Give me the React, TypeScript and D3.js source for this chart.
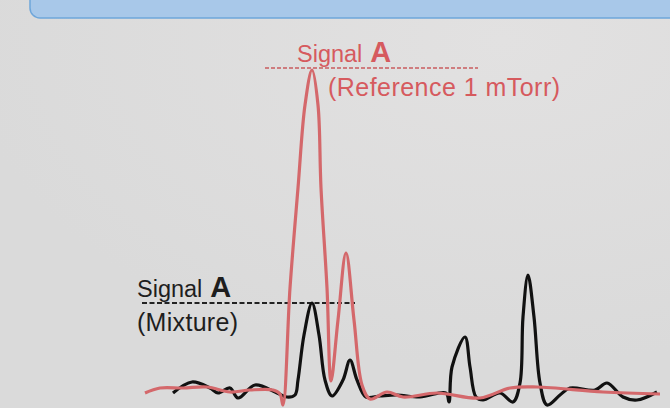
import React from "react";
import * as d3 from "d3";

// Arbitrary signal units: x = scan position, y = intensity
const referenceX = [0, 15, 38, 62, 85, 105, 128, 135, 138, 145, 153, 160, 167, 173, 176, 182, 186, 193, 201, 209, 217, 225, 242, 258, 292, 335, 365, 392, 458, 515];
const referenceY = [-1, 4, 4, 5, 0, 2, 2, -2, -13, 104, 204, 287, 322, 287, 204, 104, 11, 72, 139, 72, 7, -7, 0, -5, -1, -6, 4, 5, 0, -2];

const mixtureX = [28, 47, 65, 73, 85, 93, 110, 132, 142, 150, 153, 159, 167, 174, 180, 187, 198, 205, 212, 221, 235, 252, 275, 301, 304, 307, 320, 325, 331, 338, 355, 368, 375, 378, 383, 389, 395, 402, 415, 425, 450, 462, 478, 492, 512];
const mixtureY = [-1, 10, 4, -1, 4, -6, 7, -1, -5, -3, 12, 57, 89, 57, 12, -4, 12, 32, 12, -5, -4, -3, -5, -1, -10, 25, 55, 25, -5, -8, -1, -10, 9, 75, 117, 75, 9, -13, -3, 4, 2, 9, -5, -8, 0];

const labelRefTitle = "Signal";
const labelRefBold = "A";
const labelRefNote = "(Reference 1 mTorr)";
const labelMixTitle = "Signal";
const labelMixBold = "A";
const labelMixNote = "(Mixture)";

const W = 670;
const H = 408;

export default function App() {
  const x = d3.scaleLinear().domain([0, 515]).range([145, 660]);
  const y = d3.scaleLinear().domain([0, 322]).range([392, 70]);

  const line = d3
    .line<[number, number]>()
    .x((d) => x(d[0]))
    .y((d) => y(d[1]))
    .curve(d3.curveCatmullRom.alpha(0.5));

  const refData: [number, number][] = referenceX.map((v, i) => [v, referenceY[i]]);
  const mixData: [number, number][] = mixtureX.map((v, i) => [v, mixtureY[i]]);

  const refMax = d3.max(referenceY) as number;
  const mixMax = d3.max(mixtureY.slice(0, 20)) as number;

  const red = "#d4686b";
  const redText = "#d65a5e";
  const font = "'Liberation Sans', Arial, Helvetica, sans-serif";

  return (
    <svg
      width={W}
      height={H}
      style={{ position: "absolute", left: 0, top: 0, display: "block" }}
    >
      <defs>
        <radialGradient id="bg" cx="0.75" cy="0.1" r="0.8">
          <stop offset="0" stopColor="#e2e1e1" />
          <stop offset="1" stopColor="#dadada" />
        </radialGradient>
      </defs>
      <rect x={0} y={0} width={W} height={H} fill="url(#bg)" />
      <rect
        x={30}
        y={-30}
        width={700}
        height={48}
        rx={10}
        fill="#a8c8e9"
        stroke="#6ea6da"
        strokeWidth={1.5}
      />

      {/* reference-level dashed lines */}
      <line
        x1={265}
        x2={478}
        y1={y(refMax) - 2}
        y2={y(refMax) - 2}
        stroke="#c95c5f"
        strokeWidth={1.6}
        strokeDasharray="4,2"
      />
      <line
        x1={142}
        x2={355}
        y1={y(mixMax)}
        y2={y(mixMax)}
        stroke="#222"
        strokeWidth={2}
        strokeDasharray="5,2.5"
      />

      <path d={line(mixData) || ""} fill="none" stroke="#111" strokeWidth={3.2} strokeLinejoin="round" />
      <path d={line(refData) || ""} fill="none" stroke={red} strokeWidth={3.2} strokeLinejoin="round" />

      <text x={297} y={62} fontFamily={font} fontSize={23.5} fill={redText}>
        {labelRefTitle}
        <tspan dx={8} fontWeight="bold" fontSize={29}>
          {labelRefBold}
        </tspan>
      </text>
      <text
        x={328}
        y={96}
        fontFamily={font}
        fontSize={25}
        fill={redText}
        textLength={232}
        lengthAdjust="spacing"
      >
        {labelRefNote}
      </text>

      <text x={137} y={297} fontFamily={font} fontSize={23.5} fill="#1e1e1e">
        {labelMixTitle}
        <tspan dx={8} fontWeight="bold" fontSize={29}>
          {labelMixBold}
        </tspan>
      </text>
      <text
        x={137}
        y={331}
        fontFamily={font}
        fontSize={25}
        fill="#1e1e1e"
        textLength={101}
        lengthAdjust="spacing"
      >
        {labelMixNote}
      </text>
    </svg>
  );
}
